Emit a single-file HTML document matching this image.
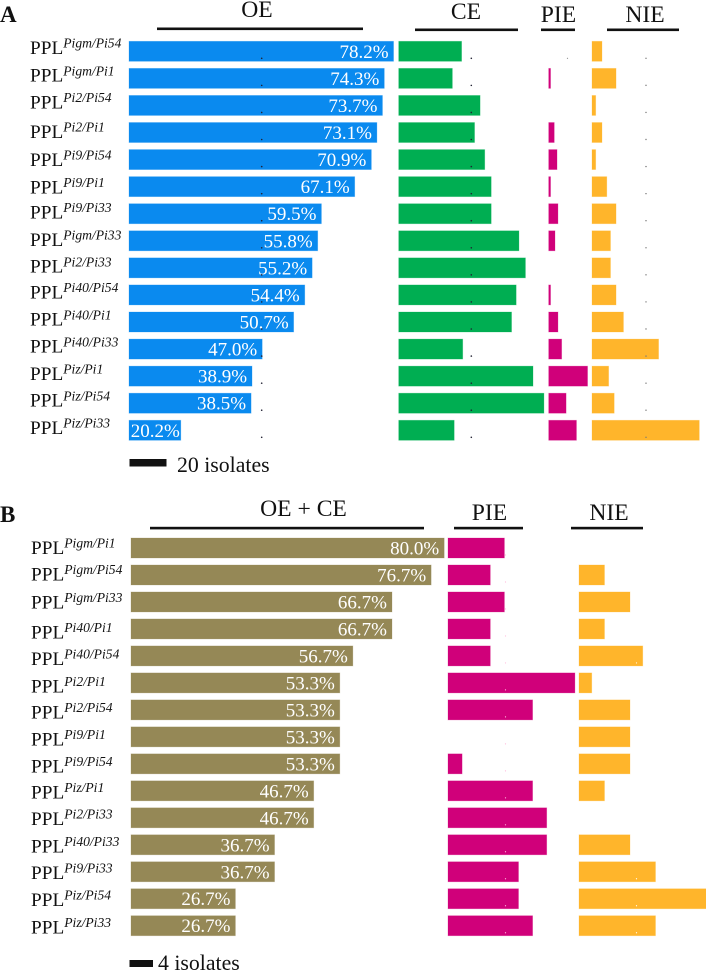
<!DOCTYPE html>
<html lang="en">
<head>
<meta charset="utf-8">
<title>PPL efficacy bar charts</title>
<style>
html,body{margin:0;padding:0;background:#fff;width:706px;height:971px;overflow:hidden}
svg{display:block;font-family:"Liberation Serif",serif}
text{fill:#111}
.rl{font-size:19.3px}
.s{font-size:13.6px;font-style:italic}
.h{font-size:23.6px;text-anchor:middle}
</style>
</head>
<body>
<svg id="chart" width="706" height="971" viewBox="0 0 706 971" xmlns="http://www.w3.org/2000/svg">
  <g>
    <text x="0" y="22" font-size="23" font-weight="bold">A</text>
    <text class="h" x="257" y="17">OE</text>
    <rect x="157" y="27.5" width="206" height="2.6" fill="#111"/>
    <text class="h" x="466" y="19">CE</text>
    <rect x="415" y="28.5" width="103" height="2.6" fill="#111"/>
    <text class="h" x="558.500" y="22">PIE</text>
    <rect x="541" y="28.500" width="34" height="2.6" fill="#111"/>
    <text class="h" x="645" y="22">NIE</text>
    <rect x="607" y="28.500" width="72" height="2.6" fill="#111"/>
  </g>
  <g>
    <text class="rl" x="30" y="54">PPL<tspan class="s" dy="-6.3">Pigm/Pi54</tspan></text>
    <text class="rl" x="30" y="81.7">PPL<tspan class="s" dy="-6.3">Pigm/Pi1</tspan></text>
    <text class="rl" x="30" y="108.3">PPL<tspan class="s" dy="-6.3">Pi2/Pi54</tspan></text>
    <text class="rl" x="30" y="138">PPL<tspan class="s" dy="-6.3">Pi2/Pi1</tspan></text>
    <text class="rl" x="30" y="166">PPL<tspan class="s" dy="-6.3">Pi9/Pi54</tspan></text>
    <text class="rl" x="30" y="193.3">PPL<tspan class="s" dy="-6.3">Pi9/Pi1</tspan></text>
    <text class="rl" x="30" y="218.3">PPL<tspan class="s" dy="-6.3">Pi9/Pi33</tspan></text>
    <text class="rl" x="30" y="246">PPL<tspan class="s" dy="-6.3">Pigm/Pi33</tspan></text>
    <text class="rl" x="30" y="272.7">PPL<tspan class="s" dy="-6.3">Pi2/Pi33</tspan></text>
    <text class="rl" x="30" y="298.3">PPL<tspan class="s" dy="-6.3">Pi40/Pi54</tspan></text>
    <text class="rl" x="30" y="325.7">PPL<tspan class="s" dy="-6.3">Pi40/Pi1</tspan></text>
    <text class="rl" x="30" y="352.7">PPL<tspan class="s" dy="-6.3">Pi40/Pi33</tspan></text>
    <text class="rl" x="30" y="380">PPL<tspan class="s" dy="-6.3">Piz/Pi1</tspan></text>
    <text class="rl" x="30" y="406.7">PPL<tspan class="s" dy="-6.3">Piz/Pi54</tspan></text>
    <text class="rl" x="30" y="434">PPL<tspan class="s" dy="-6.3">Piz/Pi33</tspan></text>
  </g>
  <g>
    <rect x="129.500" y="459" width="37" height="7.500" fill="#111"/>
    <text x="177" y="472" font-size="21.800">20 isolates</text>
  </g>
  <g>
    <text x="0" y="522" font-size="23" font-weight="bold">B</text>
    <text class="h" x="303.500" y="516">OE + CE</text>
    <rect x="150" y="526.800" width="274" height="2.6" fill="#111"/>
    <text class="h" x="489.500" y="520">PIE</text>
    <rect x="454" y="526.800" width="69" height="2.6" fill="#111"/>
    <text class="h" x="609" y="520">NIE</text>
    <rect x="571" y="526.800" width="72" height="2.6" fill="#111"/>
  </g>
  <g>
    <text class="rl" x="31" y="554">PPL<tspan class="s" dy="-6.5">Pigm/Pi1</tspan></text>
    <text class="rl" x="31" y="580.7">PPL<tspan class="s" dy="-6.5">Pigm/Pi54</tspan></text>
    <text class="rl" x="31" y="608.3">PPL<tspan class="s" dy="-6.5">Pigm/Pi33</tspan></text>
    <text class="rl" x="31" y="638.3">PPL<tspan class="s" dy="-6.5">Pi40/Pi1</tspan></text>
    <text class="rl" x="31" y="665">PPL<tspan class="s" dy="-6.5">Pi40/Pi54</tspan></text>
    <text class="rl" x="31" y="692.7">PPL<tspan class="s" dy="-6.5">Pi2/Pi1</tspan></text>
    <text class="rl" x="31" y="718.3">PPL<tspan class="s" dy="-6.5">Pi2/Pi54</tspan></text>
    <text class="rl" x="31" y="745.3">PPL<tspan class="s" dy="-6.5">Pi9/Pi1</tspan></text>
    <text class="rl" x="31" y="772.3">PPL<tspan class="s" dy="-6.5">Pi9/Pi54</tspan></text>
    <text class="rl" x="31" y="798.3">PPL<tspan class="s" dy="-6.5">Piz/Pi1</tspan></text>
    <text class="rl" x="31" y="825">PPL<tspan class="s" dy="-6.5">Pi2/Pi33</tspan></text>
    <text class="rl" x="31" y="852.3">PPL<tspan class="s" dy="-6.5">Pi40/Pi33</tspan></text>
    <text class="rl" x="31" y="879">PPL<tspan class="s" dy="-6.5">Pi9/Pi33</tspan></text>
    <text class="rl" x="31" y="906">PPL<tspan class="s" dy="-6.5">Piz/Pi54</tspan></text>
    <text class="rl" x="31" y="933.3">PPL<tspan class="s" dy="-6.5">Piz/Pi33</tspan></text>
  </g>
  <g>
    <rect x="129.500" y="960" width="23.500" height="7" fill="#111"/>
    <text x="158" y="970" font-size="21.800">4 isolates</text>
  </g>
</svg>
<script>
// Panel A data
const aPercents = ["78.2%","74.3%","73.7%","73.1%","70.9%","67.1%","59.5%","55.8%","55.2%","54.4%","50.7%","47.0%","38.9%","38.5%","20.2%"];
const aOE = [143,138,137,134,131,122,104,102,99,95,89,72,66.5,66,28];
const aCE = [34,29,44,41,46.5,50,50,65,68.5,63.5,61,34.6,72.6,78.5,30];
const aPIE = [0,1,0,3,4.5,1,5,3.4,0,1,5,7,21,9.4,15];
const aNIE = [5.4,13,2,5.4,2,8,13,10,10,13,17,36,9,12,58];
// Panel B data
const bPercents = ["80.0%","76.7%","66.7%","66.7%","56.7%","53.3%","53.3%","53.3%","53.3%","46.7%","46.7%","36.7%","36.7%","26.7%","26.7%"];
const bOECE = [24,23,20,20,17,16,16,16,16,14,14,11,11,8,8];
const bPIE = [4,3,4,3,3,9,6,0,1,6,7,7,5,5,6];
const bNIE = [0,2,4,2,5,1,4,4,4,2,0,4,6,10,6];

const NS = "http://www.w3.org/2000/svg";
const svg = document.getElementById("chart");
const COLORS = {blue:"#0a8aef",green:"#00ae52",pink:"#d0007a",orange:"#ffb52b",tan:"#958856"};

function yA(i){return 41.3 + i * 27.07;}
function yB(i){return 538 + i * 26.98;}
function xA(v){return v * 1.85;}
function xBMain(v){return v * 13.05;}
function xBPie(v){return v * 14.1;}
function xBNie(v){return v * 12.75;}

function drawBars(group, values, x0, scale, yFn, color, percents){
  values.forEach(function(v,i){
    const w = scale(v);
    if(w > 0){
      const r = document.createElementNS(NS,"rect");
      
      
      r.setAttribute("x",x0);
      r.setAttribute("y",yFn(i));
      r.setAttribute("width",w);
      r.setAttribute("height",20);
      r.setAttribute("fill",color);
      r.setAttribute("stroke",color);
      r.setAttribute("stroke-opacity","0.3");
      r.setAttribute("stroke-width","0.8");
      group.appendChild(r);
    }
    if(percents){
      const t = document.createElementNS(NS,"text");
      
      
      t.setAttribute("x",x0 + w - (w < 60 ? 1 : 5));
      t.setAttribute("y",yFn(i) + 16.5);
      t.setAttribute("font-size","19");
      t.setAttribute("text-anchor","end");
      t.style.fill = "#fff";
      t.textContent = percents[i];
      group.appendChild(t);
    }
  });
}

function drawDots(group, count, x, yFn, color, r0){
  for(let i=0;i<count;i++){
    const d = document.createElementNS(NS,"circle");
    
    
    d.setAttribute("cx",x);
    d.setAttribute("cy",yFn(i) + 17);
    d.setAttribute("r",r0);
    d.setAttribute("fill",color);
    group.appendChild(d);
  }
}

function addGroup(name){
  const g = document.createElementNS(NS,"g");
  
  
  svg.appendChild(g);
  return g;
}

const gA = addGroup('panel-a-bars');
drawBars(gA, aOE, 129, xA, yA, COLORS.blue, aPercents);
drawBars(gA, aCE, 398.7, xA, yA, COLORS.green, null);
drawBars(gA, aPIE, 548.7, xA, yA, COLORS.pink, null);
drawBars(gA, aNIE, 592, xA, yA, COLORS.orange, null);
drawDots(gA, 15, 261.7, yA, "#223", 0.8);
drawDots(gA, 15, 471.3, yA, "#223", 0.8);
drawDots(gA, 1, 567.5, yA, "#888", 0.6);
drawDots(gA, 15, 646, yA, "#777", 0.7);

const gB = addGroup('panel-b-bars');
drawBars(gB, bOECE, 131, xBMain, yB, COLORS.tan, bPercents);
drawBars(gB, bPIE, 448, xBPie, yB, COLORS.pink, null);
drawBars(gB, bNIE, 579, xBNie, yB, COLORS.orange, null);
drawDots(gB, 15, 505.5, yB, "#fbd", 0.6);
drawDots(gB, 15, 636.5, yB, "#fff", 0.6);
</script>
</body>
</html>
